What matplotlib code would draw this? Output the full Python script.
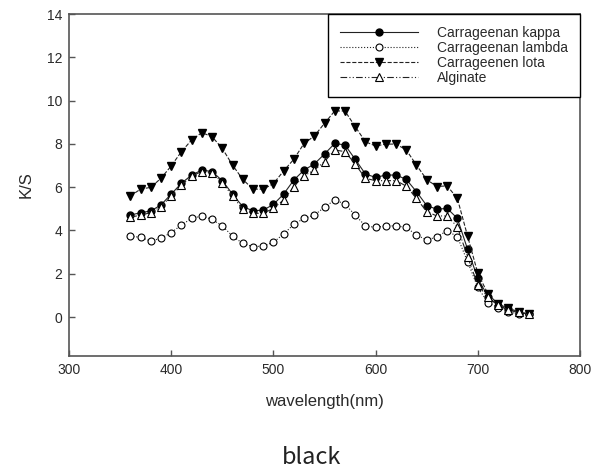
import matplotlib
matplotlib.use("Agg")
import matplotlib.pyplot as plt
import numpy as np

wavelength = list(range(360, 760, 10))

kappa = [4.71, 4.82, 4.90, 5.18, 5.68, 6.18, 6.56, 6.79, 6.72, 6.30,
         5.68, 5.10, 4.91, 4.94, 5.20, 5.68, 6.33, 6.79, 7.07, 7.53,
         8.02, 7.95, 7.29, 6.61, 6.45, 6.56, 6.56, 6.36, 5.79, 5.15,
         4.98, 5.02, 4.56, 3.13, 1.79, 0.94, 0.51, 0.35, 0.20, 0.14]

lambda_ = [3.74, 3.68, 3.51, 3.64, 3.90, 4.25, 4.56, 4.67, 4.51, 4.21,
           3.74, 3.40, 3.25, 3.28, 3.45, 3.84, 4.28, 4.56, 4.71, 5.07,
           5.41, 5.22, 4.71, 4.21, 4.14, 4.21, 4.21, 4.14, 3.79, 3.56,
           3.70, 3.99, 3.71, 2.56, 1.37, 0.66, 0.43, 0.25, 0.14, 0.14]

iota = [5.59, 5.91, 5.99, 6.41, 6.98, 7.64, 8.18, 8.52, 8.33, 7.79,
        7.02, 6.36, 5.91, 5.91, 6.16, 6.75, 7.29, 8.02, 8.36, 8.95,
        9.52, 9.52, 8.80, 8.10, 7.90, 7.99, 7.99, 7.72, 7.02, 6.35,
        6.03, 6.06, 5.48, 3.74, 2.02, 1.06, 0.60, 0.40, 0.25, 0.14]

alginate = [4.61, 4.71, 4.82, 5.10, 5.59, 6.10, 6.52, 6.72, 6.67, 6.21,
            5.59, 4.98, 4.79, 4.79, 5.02, 5.41, 6.02, 6.52, 6.79, 7.18,
            7.72, 7.64, 7.07, 6.41, 6.30, 6.30, 6.30, 6.05, 5.48, 4.87,
            4.67, 4.67, 4.17, 2.79, 1.48, 0.91, 0.55, 0.32, 0.22, 0.14]

labels = ["Carrageenan kappa", "Carrageenan lambda", "Carrageenen lota", "Alginate"]
xticks = [300, 400, 500, 600, 700, 800]
yticks = [0, 2, 4, 6, 8, 10, 12, 14]

plt.rcParams['font.family'] = ['Liberation Sans', 'DejaVu Sans']

fig = plt.figure(figsize=(6.03, 4.71), dpi=100)
ax = fig.add_axes([69/603, 1-356/471, (580-69)/603, (356-14)/471])

lc = '#222222'
ms = 5
ax.plot(wavelength, kappa, '-', color=lc, lw=0.8, marker='o', ms=ms,
        mfc='black', mec='black', label=labels[0])
ax.plot(wavelength, lambda_, ':', color=lc, lw=0.8, marker='o', ms=ms,
        mfc='white', mec='black', mew=0.8, label=labels[1])
ax.plot(wavelength, iota, '--', color=lc, lw=0.8, marker='v', ms=ms+0.8,
        mfc='black', mec='black', label=labels[2])
ax.plot(wavelength, alginate, color=lc, lw=0.8, marker='^', ms=ms+0.8,
        mfc='white', mec='black', mew=0.8, dashes=[6, 2, 1, 2, 1, 2],
        label=labels[3])

ax.set_xlim(300, 800)
ax.set_ylim(-1.8, 14)
ax.set_xticks(xticks)
ax.set_yticks(yticks)
ax.tick_params(direction='in', length=4, width=1, colors='#555555',
               labelcolor='#2a2a2a', labelsize=10)
ax.tick_params(axis='x', pad=5)
ax.tick_params(axis='y', pad=5)
for s in ax.spines.values():
    s.set_color('#555555')
    s.set_linewidth(1.2)

ax.set_xlabel('wavelength(nm)', fontsize=12, color='#2a2a2a', labelpad=12)
ax.set_ylabel('K/S', fontsize=12, color='#2a2a2a', labelpad=9)

leg = ax.legend(loc='upper right', bbox_to_anchor=(1.0, 1.0), borderaxespad=0,
                fontsize=10, handlelength=5.6, handletextpad=1.4,
                labelspacing=0.08, fancybox=False, framealpha=1,
                edgecolor='black', borderpad=0.85)
leg.get_frame().set_linewidth(1.0)
for t in leg.get_texts():
    t.set_color('#2a2a2a')

fig.text(312/603, 1-458/471, 'black', ha='center', va='center',
         fontsize=17, family=['Noto Sans CJK KR', 'DejaVu Sans'], color='#222222')

fig.savefig('out.png', dpi=100)
